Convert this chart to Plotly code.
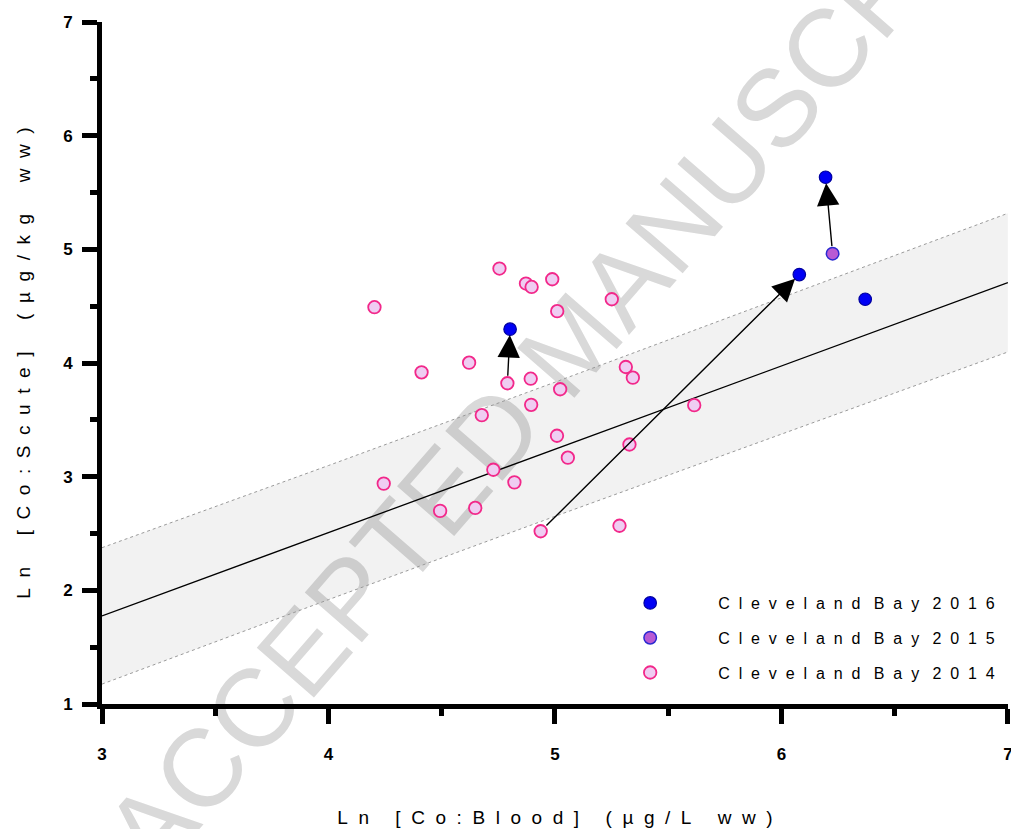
import plotly.graph_objects as go

# ---- data ----
x2014 = [4.203, 4.411, 4.621, 4.755, 4.872, 4.897, 4.988, 5.010, 5.251, 4.790,
         4.893, 5.023, 4.895, 4.677, 5.313, 5.344, 5.615, 5.009, 5.329, 5.057,
         4.728, 4.244, 4.821, 4.648, 4.493, 5.285, 4.937]
y2014 = [4.491, 3.918, 4.003, 4.831, 4.699, 4.669, 4.737, 4.456, 4.561, 3.822,
         3.862, 3.769, 3.632, 3.541, 3.965, 3.871, 3.629, 3.360, 3.283, 3.167,
         3.061, 2.939, 2.950, 2.725, 2.699, 2.568, 2.520]
x2015 = [6.226]
y2015 = [4.962]
x2016 = [4.802, 6.079, 6.195, 6.370]
y2016 = [4.298, 4.778, 5.634, 4.561]

# arrows: (tail x, tail y, head x, head y)
arrow_tail_x = [4.790, 4.937, 6.226]
arrow_tail_y = [3.822, 2.520, 4.962]
arrow_head_x = [4.802, 6.079, 6.195]
arrow_head_y = [4.298, 4.778, 5.634]

# regression line and prediction band
reg_slope = 0.733
reg_intercept = 1.775 - 3 * 0.733
band_x = [3, 4, 5, 6, 7]
band_half = [0.60, 0.59, 0.59, 0.60, 0.61]

series_labels = ["Cleveland Bay 2014", "Cleveland Bay 2015", "Cleveland Bay 2016"]
x_ticks = [3, 4, 5, 6, 7]
y_ticks = [1, 2, 3, 4, 5, 6, 7]
x_title_words = ["Ln", "[Co:Blood]", "(µg/L", "ww)"]
y_title_words = ["Ln", "[Co:Scute]", "(µg/kg", "ww)"]
watermark = "ACCEPTED MANUSCRIPT"

NB = "\u00a0"


def spaced(words, intra, inter):
    return (NB * inter).join((NB * intra).join(w) for w in words)


legend_names = [spaced(s.split(" "), 2, 3) for s in series_labels]
x_title = spaced(x_title_words, 2, 5)
y_title = spaced(y_title_words, 2, 6)

reg_y = [reg_intercept + reg_slope * v for v in band_x]
upper = [r + h for r, h in zip(reg_y, band_half)]
lower = [r - h for r, h in zip(reg_y, band_half)]

FONT = "Arial, Liberation Sans"

fig = go.Figure()

# band
fig.add_trace(go.Scatter(x=band_x, y=lower, mode="lines",
                         line=dict(color="#9a9a9a", width=1, dash="dot"),
                         showlegend=False, hoverinfo="skip"))
fig.add_trace(go.Scatter(x=band_x, y=upper, mode="lines", fill="tonexty",
                         fillcolor="rgba(0,0,0,0.05)",
                         line=dict(color="#9a9a9a", width=1, dash="dot"),
                         showlegend=False, hoverinfo="skip"))
# regression line
fig.add_trace(go.Scatter(x=band_x, y=reg_y, mode="lines",
                         line=dict(color="black", width=1.3),
                         showlegend=False, hoverinfo="skip"))

fig.add_trace(go.Scatter(x=x2014, y=y2014, mode="markers", name=legend_names[0],
                         legendgroup="a", legendrank=3,
                         marker=dict(size=12.5, color="#efcdf2",
                                     line=dict(color="#f2288a", width=1.8))))
fig.add_trace(go.Scatter(x=x2015, y=y2015, mode="markers", name=legend_names[1],
                         legendgroup="b", legendrank=2,
                         marker=dict(size=12.5, color="#b85ad4",
                                     line=dict(color="#2a2ad0", width=1.5))))
fig.add_trace(go.Scatter(x=x2016, y=y2016, mode="markers", name=legend_names[2],
                         legendgroup="c", legendrank=1,
                         marker=dict(size=12.5, color="#0000f5",
                                     line=dict(color="#0000a0", width=1.2))))

for tx, ty, hx, hy in zip(arrow_tail_x, arrow_tail_y, arrow_head_x, arrow_head_y):
    fig.add_annotation(x=hx, y=hy, ax=tx, ay=ty, xref="x", yref="y",
                       axref="x", ayref="y", text="", showarrow=True,
                       arrowhead=2, arrowsize=3.2, arrowwidth=1.4,
                       arrowcolor="black", standoff=6, startstandoff=6)

# watermark (below the data)
fig.add_shape(type="rect", xref="paper", yref="paper", x0=0.31, x1=0.71,
              y0=0.415, y1=0.665, layer="below", line=dict(width=0),
              fillcolor="rgba(0,0,0,0)",
              label=dict(text=watermark, textangle=-49,
                         textposition="middle center",
                         font=dict(size=110, color="#d9d9d9", family=FONT)))

axis_common = dict(showgrid=False, zeroline=False, showline=True,
                   linecolor="black", linewidth=5, ticks="outside",
                   ticklen=15, tickwidth=5, tickcolor="black", automargin=False,
                   ticklabeloverflow="allow",
                   tickfont=dict(family=FONT, size=17, color="black", weight="bold"))

fig.update_xaxes(range=[3, 7.0005], tickvals=x_ticks, ticktext=[str(v) for v in x_ticks],
                 minor=dict(dtick=0.5, ticklen=7, tickwidth=5, tickcolor="black",
                            ticks="outside"),
                 ticklabelstandoff=16,
                 title=dict(text=x_title, standoff=49,
                            font=dict(family=FONT, size=19, color="black")),
                 **axis_common)
fig.update_yaxes(range=[1, 7], tickvals=y_ticks, ticktext=[str(v) for v in y_ticks],
                 minor=dict(dtick=0.5, ticklen=7, tickwidth=5, tickcolor="black",
                            ticks="outside"),
                 ticklabelstandoff=6,
                 title=dict(text=y_title, standoff=29,
                            font=dict(family=FONT, size=19, color="black")),
                 **axis_common)

fig.update_layout(
    width=1011, height=829,
    margin=dict(l=102, r=3, t=22, b=125),
    plot_bgcolor="white", paper_bgcolor="white",
    showlegend=True,
    legend=dict(x=0.530, y=0.173, xanchor="left", yanchor="top",
                traceorder="grouped", tracegroupgap=11,
                itemwidth=126, bgcolor="rgba(0,0,0,0)",
                font=dict(family=FONT, size=16, color="black")),
)

fig.write_html("out.html",
               config={"displayModeBar": False},
               post_script="document.body.style.margin='0px';"
                           "document.body.style.overflow='hidden';")
